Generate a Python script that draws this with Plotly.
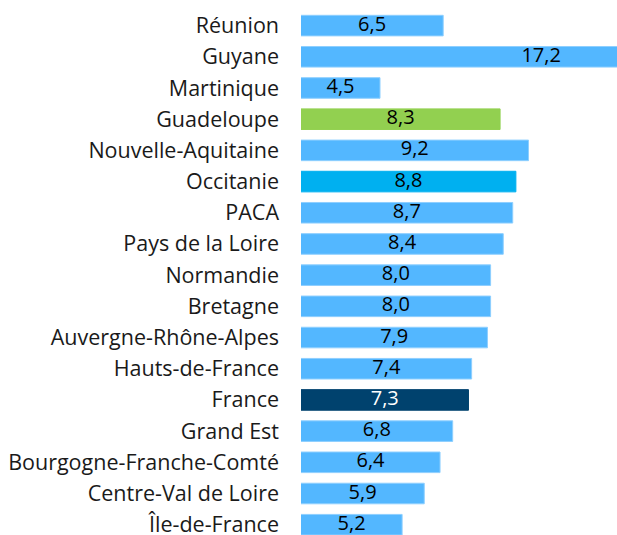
import plotly.graph_objects as go

categories = ["Réunion", "Guyane", "Martinique", "Guadeloupe", "Nouvelle-Aquitaine",
              "Occitanie", "PACA", "Pays de la Loire", "Normandie", "Bretagne",
              "Auvergne-Rhône-Alpes", "Hauts-de-France", "France", "Grand Est",
              "Bourgogne-Franche-Comté", "Centre-Val de Loire", "Île-de-France"]
values = [6.5, 17.2, 4.5, 8.3, 9.2, 8.8, 8.7, 8.4, 8.0, 8.0, 7.9, 7.4, 7.3, 6.8, 6.4, 5.9, 5.2]
value_labels = ["6,5", "17,2", "4,5", "8,3", "9,2", "8,8", "8,7", "8,4", "8,0", "8,0",
                "7,9", "7,4", "7,3", "6,8", "6,4", "5,9", "5,2"]

default_color = "#53B7FF"
special_colors = {"Guadeloupe": "#92D050", "Occitanie": "#00B0F0", "France": "#00426E"}
colors = [special_colors.get(c, default_color) for c in categories]
line_colors = [special_colors.get(c, "#8ECFFF") for c in categories]
text_colors = ["white" if c == "France" else "black" for c in categories]

x_min, x_max = 2, 12
idx = list(range(len(categories)))
label_x = [(x_min + v) / 2 for v in values]

fig = go.Figure()
fig.add_trace(go.Bar(
    x=values, y=idx, orientation="h",
    marker=dict(color=colors, line=dict(color=line_colors, width=1)),
    width=0.66, hoverinfo="skip",
))
fig.add_trace(go.Scatter(
    x=label_x, y=idx, mode="text", text=value_labels,
    textposition="middle center",
    textfont=dict(family="Open Sans", size=20, color=text_colors),
    hoverinfo="skip", cliponaxis=True,
))

fig.update_layout(
    width=617, height=535,
    margin=dict(l=301, r=0, t=10, b=0, autoexpand=False),
    paper_bgcolor="white", plot_bgcolor="white",
    showlegend=False,
    font=dict(family="Open Sans", size=21.5, color="#1a1a1a"),
    xaxis=dict(range=[x_min, x_max], visible=False, showgrid=False, zeroline=False),
    yaxis=dict(range=[16.33, -0.5], tickmode="array", tickvals=idx, ticktext=categories,
               showgrid=False, zeroline=False, showline=False, ticks="",
               ticklabelstandoff=21, ticklabeloverflow="allow", automargin=False),
)

fig.write_html(
    "out.html",
    config={"displayModeBar": False, "staticPlot": True},
    post_script="document.body.style.margin='0';document.body.style.overflow='hidden';",
)
